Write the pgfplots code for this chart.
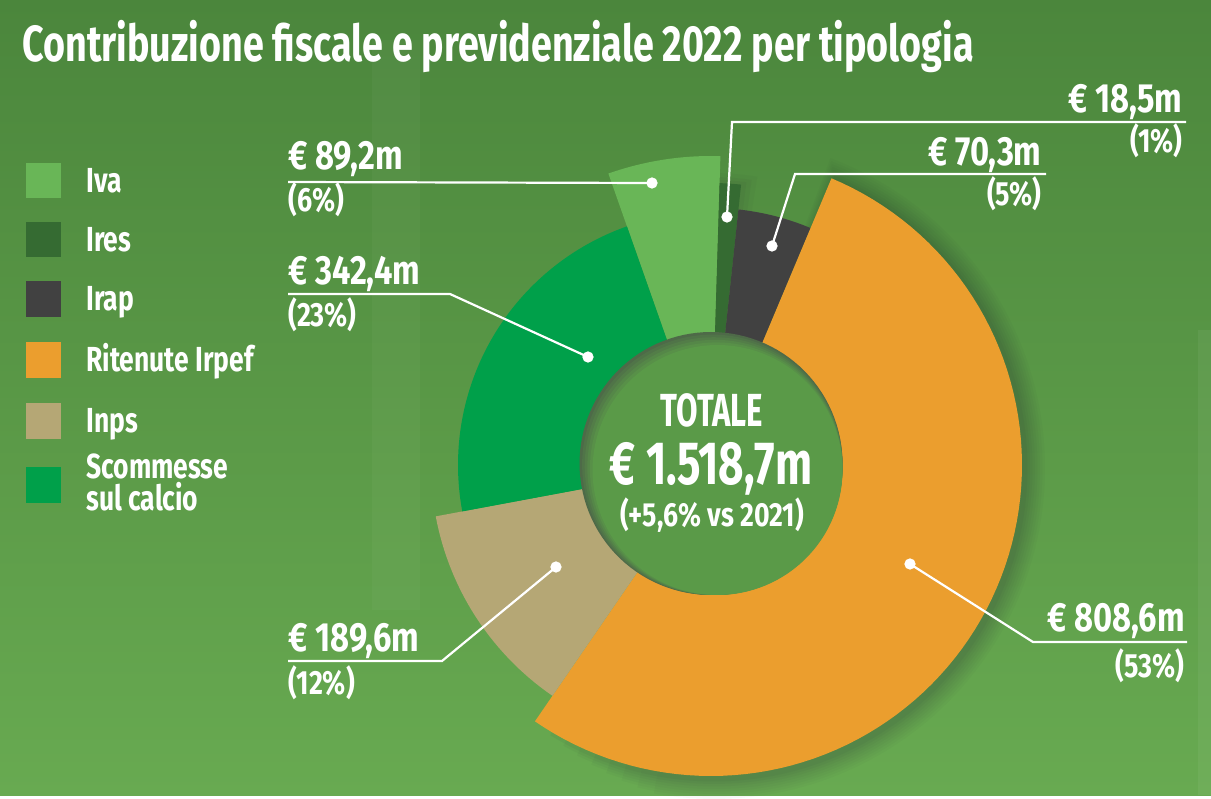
\documentclass[border=0pt]{standalone}
\usepackage{fontspec}
\setmainfont{Fira Sans}[FakeStretch=0.8]
\usepackage{graphicx}
\usepackage{pgfplots}
\pgfplotsset{compat=1.18}

\definecolor{cIva}{HTML}{69B657}
\definecolor{cIres}{HTML}{356B32}
\definecolor{cIrap}{HTML}{414141}
\definecolor{cIrpef}{HTML}{EB9E2E}
\definecolor{cInps}{HTML}{B5A775}
\definecolor{cScom}{HTML}{00A04A}
\definecolor{cInner}{HTML}{5A9A48}
\definecolor{cShad}{HTML}{4E6A48}
\definecolor{cDrop}{HTML}{303838}
\definecolor{bgTop}{HTML}{4B863C}
\definecolor{bgBot}{HTML}{68AA51}

% values (million euro)
\def\vIva{89.2}
\def\vIres{18.5}
\def\vIrap{70.3}
\def\vIrpef{808.6}
\def\vInps{189.6}
\def\vScom{342.4}
% outer radii of the slices (px)
\def\rIva{309}
\def\rIres{282}
\def\rIrap{257}
\def\rIrpef{311}
\def\rInps{280}
\def\rScom{253}

\pgfmathsetmacro\tot{\vIva+\vIres+\vIrap+\vIrpef+\vInps+\vScom}
\pgfmathsetmacro\aA{-19.4}
\pgfmathsetmacro\aB{\aA+360*(\vIva/\tot)}
\pgfmathsetmacro\aC{\aB+360*(\vIres/\tot)}
\pgfmathsetmacro\aD{\aC+360*(\vIrap/\tot)}
\pgfmathsetmacro\aE{\aD+360*(\vIrpef/\tot)}
\pgfmathsetmacro\aF{\aE+360*(\vInps/\tot)}
\pgfmathsetmacro\aG{\aF+360*(\vScom/\tot)}

\newcommand{\sector}[6]{%
  \addplot[#1, draw=none, domain=#4:#5, samples=90, variable=\t]
    ({#2+(#6)*sin(\t)}, {#3-(#6)*cos(\t)}) -- (axis cs:#2,#3) -- cycle;}
\newcommand{\disc}[4]{%
  \addplot[#1, draw=none, domain=0:360, samples=120, variable=\t]
    ({#2+(#4)*sin(\t)}, {#3-(#4)*cos(\t)}) -- cycle;}

\tikzset{
  val/.style={text=white, inner sep=0pt, font=\bfseries\fontsize{20.4pt}{22pt}\selectfont},
  pct/.style={text=white, inner sep=0pt, font=\bfseries\fontsize{16.8pt}{18pt}\selectfont},
  leg/.style={text=white, inner sep=0pt, font=\bfseries\fontsize{17.4pt}{16pt}\selectfont},
}

\begin{document}
\begin{tikzpicture}
\begin{axis}[width=605.5pt, height=397.5pt, scale only axis,
  xmin=0, xmax=1211, ymin=0, ymax=795, y dir=reverse,
  hide axis, clip=false]

% background
\fill[top color=bgTop, bottom color=bgBot] (axis cs:0,0) rectangle (axis cs:1211,795);
\fill[white, opacity=0.03] (axis cs:372,40) rectangle (axis cs:420,610);
\fill[white, opacity=0.05] (axis cs:1198,330) rectangle (axis cs:1211,795);

% soft drop shadows
\sector{fill=cDrop, fill opacity=0.035}{714}{468}{\aD-2.2}{\aE-24}{\rIrpef+20}
\sector{fill=cDrop, fill opacity=0.035}{714}{468}{\aD-1.9}{\aE-21}{\rIrpef+17.5}
\sector{fill=cDrop, fill opacity=0.035}{714}{468}{\aD-1.6}{\aE-18}{\rIrpef+15}
\sector{fill=cDrop, fill opacity=0.04}{714}{468}{\aD-1.3}{\aE-15}{\rIrpef+12.5}
\sector{fill=cDrop, fill opacity=0.04}{714}{468}{\aD-1.0}{\aE-12}{\rIrpef+10}
\sector{fill=cDrop, fill opacity=0.045}{714}{468}{\aD-0.7}{\aE-9}{\rIrpef+7.5}
\sector{fill=cDrop, fill opacity=0.05}{714}{468}{\aD-0.4}{\aE-6}{\rIrpef+5}
\sector{fill=cDrop, fill opacity=0.06}{714}{468}{\aD-0.2}{\aE-3}{\rIrpef+2.5}
\sector{fill=cDrop, fill opacity=0.04}{711}{465}{\aB}{\aC+3}{\rIres+10}
\sector{fill=cDrop, fill opacity=0.05}{711}{465}{\aB}{\aC+2}{\rIres+6}
\sector{fill=cDrop, fill opacity=0.06}{711}{465}{\aB}{\aC+1}{\rIres+3}

% slices
\sector{fill=cIva}{711}{465}{\aA}{\aB}{\rIva}
\sector{fill=cIres}{711}{465}{\aB}{\aC}{\rIres}
\sector{fill=cIrap}{711}{465}{\aC}{\aD}{\rIrap}
\sector{fill=cIrpef}{711}{465}{\aD}{\aE}{\rIrpef}
\sector{fill=cInps}{711}{465}{\aE}{\aF}{\rInps}
\sector{fill=cScom}{711}{465}{\aF}{\aG}{\rScom}

% inner circle with soft shadow on the upper left
\disc{fill=cShad}{711}{463.5}{131.5}
\disc{fill=cInner!20!cShad}{712.3}{464.8}{130.2}
\disc{fill=cInner!40!cShad}{713.6}{466.1}{128.9}
\disc{fill=cInner!60!cShad}{714.9}{467.4}{127.6}
\disc{fill=cInner!80!cShad}{716.2}{468.7}{126.3}
\disc{fill=cInner}{717.5}{470.0}{125.0}

% leader lines
\addplot[white, line width=1.1pt] coordinates {(288,182) (652,183)};
\addplot[white, line width=1.1pt] coordinates {(1186,122) (732,122) (727,217)};
\addplot[white, line width=1.1pt] coordinates {(1046,174) (795,174) (772,246)};
\addplot[white, line width=1.1pt] coordinates {(1187,642) (1033,642) (910,564)};
\addplot[white, line width=1.1pt] coordinates {(288,661) (442,661) (556,567)};
\addplot[white, line width=1.1pt] coordinates {(288,294) (450,294) (588,357)};
\addplot[only marks, mark=*, mark size=2.6pt, white] coordinates
  {(652,183) (727,217) (772,246) (910,564) (556,567) (588,357)};

% labels
\node[val, anchor=base west] at (axis cs:288,170) {€ 89,2m};
\node[pct, anchor=base west] at (axis cs:288,212) {(6\%)};
\node[val, anchor=base west] at (axis cs:288,285) {€ 342,4m};
\node[pct, anchor=base west] at (axis cs:288,327) {(23\%)};
\node[val, anchor=base west] at (axis cs:288,652) {€ 189,6m};
\node[pct, anchor=base west] at (axis cs:288,694) {(12\%)};
\node[val, anchor=base east] at (axis cs:1183,113) {€ 18,5m};
\node[pct, anchor=base east] at (axis cs:1183,153) {(1\%)};
\node[val, anchor=base east] at (axis cs:1042,166) {€ 70,3m};
\node[pct, anchor=base east] at (axis cs:1042,206) {(5\%)};
\node[val, anchor=base east] at (axis cs:1185,632) {€ 808,6m};
\node[pct, anchor=base east] at (axis cs:1185,677) {(53\%)};

% centre
\node[text=white, inner sep=0pt, anchor=base, font=\bfseries\fontsize{23.2pt}{24pt}\selectfont] at (axis cs:712,427) {\scalebox{0.84}[1]{TOTALE}};
\node[text=white, inner sep=0pt, anchor=base, font=\bfseries\fontsize{30.5pt}{32pt}\selectfont] at (axis cs:711,485) {\scalebox{0.9}[1]{€ 1.518,7m}};
\node[text=white, inner sep=0pt, anchor=base, font=\bfseries\fontsize{16.7pt}{18pt}\selectfont] at (axis cs:712,527) {(+5,6\% vs 2021)};

% title
\node[text=white, inner sep=0pt, anchor=base west, font=\bfseries\fontsize{25.4pt}{28pt}\selectfont] at (axis cs:22,62) {\scalebox{0.927}[1]{Contribuzione fiscale e previdenziale 2022 per tipologia}};

% legend
\fill[cIva] (axis cs:26,163) rectangle (axis cs:61,198);
\fill[cIres] (axis cs:26,222) rectangle (axis cs:61,257);
\fill[cIrap] (axis cs:26,281) rectangle (axis cs:61,317);
\fill[cIrpef] (axis cs:26,342) rectangle (axis cs:61,378);
\fill[cInps] (axis cs:26,403) rectangle (axis cs:61,439);
\fill[cScom] (axis cs:26,467) rectangle (axis cs:61,503);
\node[leg, anchor=base west] at (axis cs:86,193) {\scalebox{0.95}[1]{Iva}};
\node[leg, anchor=base west] at (axis cs:86,252) {\scalebox{0.95}[1]{Ires}};
\node[leg, anchor=base west] at (axis cs:86,311) {\scalebox{0.95}[1]{Irap}};
\node[leg, anchor=base west] at (axis cs:86,372) {\scalebox{0.95}[1]{Ritenute Irpef}};
\node[leg, anchor=base west] at (axis cs:86,433) {\scalebox{0.95}[1]{Inps}};
\node[leg, anchor=base west] at (axis cs:86,479) {\scalebox{0.95}[1]{Scommesse}};
\node[leg, anchor=base west] at (axis cs:86,511) {\scalebox{0.95}[1]{sul calcio}};
\end{axis}
\end{tikzpicture}
\end{document}
